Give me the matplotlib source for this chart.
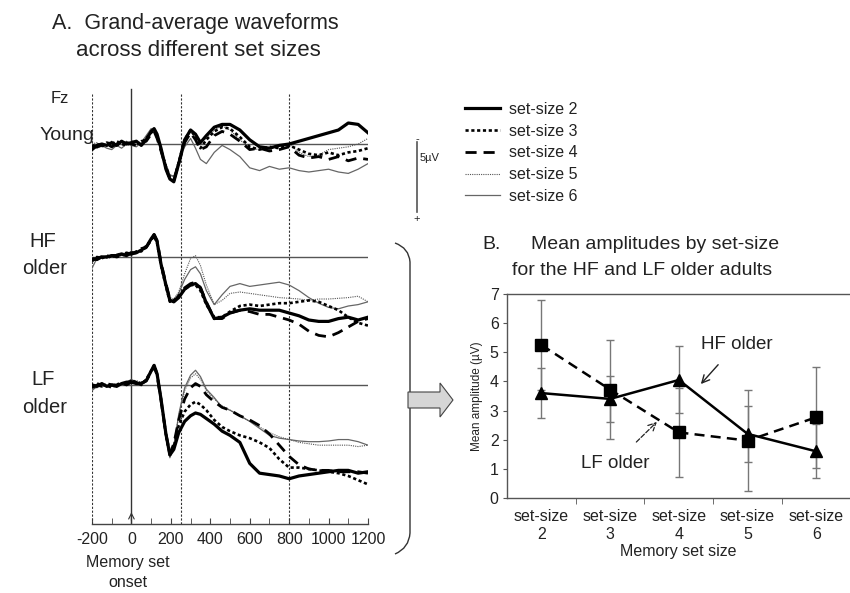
import numpy as np
import matplotlib
matplotlib.use('Agg')
import matplotlib.pyplot as plt
from matplotlib.path import Path
from matplotlib.patches import PathPatch, Polygon

plt.rcParams['font.family'] = ['Liberation Sans', 'DejaVu Sans']
plt.rcParams['axes.unicode_minus'] = False

''' Panel A: grand-average waveforms at Fz (uV, positive plotted down) '''
t_ms = [-200, -175, -150, -125, -100, -75, -50, -25, 0, 25, 50, 75, 100, 115, 130, 150,
        175, 195, 215, 240, 270, 300, 325, 350, 380, 420, 460, 500, 550, 600, 650, 700,
        750, 800, 850, 900, 950, 1000, 1050, 1100, 1150, 1200]

young_2 = [0.4, 0.1, 0.0, 0.1, -0.1, 0.1, -0.2, 0.0, -0.1, -0.2, 0.1, -0.3, -0.9, -1.1, -0.7, 0.3,
           1.8, 2.5, 2.7, 1.4, -0.3, -1.0, -0.7, -0.1, -0.6, -1.2, -1.4, -1.4, -1.0, -0.3, 0.2, 0.3,
           0.1, 0.0, -0.2, -0.4, -0.6, -0.8, -1.0, -1.5, -1.4, -0.8]
young_3 = [0.2, 0.0, 0.2, -0.1, 0.0, -0.2, 0.0, 0.1, -0.2, 0.0, -0.1, -0.4, -0.8, -1.0, -0.5, 0.4,
           1.6, 2.4, 2.6, 1.3, -0.3, -1.0, -0.5, 0.3, -0.3, -0.9, -1.2, -1.1, -0.5, 0.2, 0.4, 0.2,
           0.3, 0.1, 0.4, 0.7, 0.8, 0.6, 0.8, 0.6, 0.5, 0.3]
young_4 = [0.1, 0.2, 0.1, 0.0, 0.2, 0.0, 0.1, -0.1, 0.0, 0.1, -0.2, -0.2, -0.7, -0.9, -0.4, 0.5,
           1.7, 2.5, 2.6, 1.4, -0.1, -0.8, -0.3, 0.4, 0.2, -0.6, -0.9, -0.7, -0.2, 0.4, 0.3, 0.5,
           0.4, 0.2, 0.8, 1.0, 0.9, 1.1, 0.9, 1.2, 1.0, 1.1]
young_5 = [0.0, -0.1, 0.2, 0.0, -0.2, 0.1, 0.0, -0.2, 0.1, -0.1, 0.0, -0.5, -1.0, -1.1, -0.6, 0.3,
           1.4, 2.2, 2.4, 1.2, -0.2, -1.0, -0.7, -0.2, -0.4, -1.0, -1.3, -1.0, -0.3, 0.3, 0.4, 0.3,
           0.1, 0.0, 0.6, 0.9, 0.8, 0.4, 0.3, 0.2, 0.0, -0.4]
young_6 = [0.2, 0.3, 0.1, 0.3, 0.4, 0.1, 0.3, 0.0, 0.1, 0.2, -0.1, -0.6, -1.1, -0.9, -0.4, 0.4,
           1.5, 2.2, 2.3, 1.2, 0.2, -0.4, 0.3, 1.1, 1.4, 0.6, 0.1, 0.4, 0.9, 1.7, 1.9, 1.6,
           1.8, 1.7, 1.9, 2.0, 1.9, 1.8, 2.0, 2.1, 1.8, 1.4]

hf_2 = [0.2, 0.1, 0.0, 0.0, -0.1, -0.1, -0.2, -0.1, -0.3, -0.3, -0.5, -0.7, -1.3, -1.6, -1.1, 0.5,
        2.0, 3.1, 3.2, 2.9, 2.3, 2.0, 1.9, 2.2, 3.3, 4.4, 4.3, 4.0, 3.8, 3.7, 3.8, 3.8,
        3.8, 4.0, 4.2, 4.5, 4.6, 4.6, 4.4, 4.3, 4.5, 4.3]
hf_3 = [0.3, 0.0, 0.1, -0.1, 0.0, -0.2, -0.1, -0.2, -0.2, -0.4, -0.4, -0.8, -1.2, -1.5, -1.0, 0.6,
        2.1, 3.2, 3.1, 2.8, 2.3, 2.0, 2.0, 2.4, 3.4, 4.3, 4.3, 3.9, 3.5, 3.4, 3.5, 3.4,
        3.3, 3.3, 3.2, 3.1, 3.2, 3.5, 3.8, 4.3, 4.7, 4.9]
hf_4 = [0.1, 0.2, 0.0, 0.1, -0.1, 0.0, -0.1, -0.3, -0.2, -0.3, -0.6, -0.7, -1.2, -1.6, -1.2, 0.4,
        1.9, 3.0, 3.2, 2.8, 2.2, 1.9, 1.8, 2.2, 3.2, 4.4, 4.4, 4.0, 3.8, 3.9, 4.1, 4.1,
        4.3, 4.5, 4.8, 5.3, 5.6, 5.7, 5.4, 5.0, 4.6, 4.4]
hf_5 = [0.4, 0.0, -0.1, 0.1, -0.1, -0.2, -0.2, -0.3, -0.3, -0.4, -0.5, -0.8, -1.3, -1.6, -1.1, 0.4,
        1.8, 2.9, 3.0, 2.5, 1.2, 0.1, -0.1, 0.6, 2.0, 3.4, 3.1, 2.6, 2.5, 2.6, 2.7, 2.8,
        2.9, 2.95, 3.0, 3.1, 3.0, 3.0, 2.95, 2.9, 2.8, 3.2]
hf_6 = [0.8, 0.1, 0.0, -0.1, 0.0, -0.2, -0.3, -0.2, -0.4, -0.3, -0.5, -0.6, -1.2, -1.5, -1.0, 0.5,
        1.9, 3.0, 3.1, 2.6, 1.6, 0.9, 0.7, 1.2, 2.4, 3.4, 2.7, 2.1, 1.9, 2.1, 2.0, 1.9,
        1.8, 2.0, 2.4, 2.9, 3.3, 3.6, 3.7, 3.5, 3.4, 3.2]

lf_2 = [0.0, 0.1, -0.1, 0.1, 0.0, 0.1, -0.1, -0.2, -0.2, -0.1, -0.1, -0.3, -1.0, -1.4, -0.8, 1.0,
        3.5, 5.0, 4.6, 3.4, 2.6, 2.2, 2.0, 2.1, 2.4, 2.8, 3.3, 3.6, 4.1, 5.6, 6.3, 6.4,
        6.5, 6.7, 6.5, 6.4, 6.3, 6.2, 6.1, 6.1, 6.3, 6.2]
lf_3 = [0.1, -0.1, 0.0, 0.0, 0.2, -0.1, 0.0, -0.1, -0.3, -0.2, 0.0, -0.4, -1.0, -1.4, -0.8, 1.0,
        3.6, 5.0, 4.4, 2.9, 1.9, 1.4, 1.2, 1.4, 1.8, 2.5, 3.0, 3.3, 3.6, 3.8, 4.1, 4.5,
        5.3, 5.9, 5.9, 6.0, 6.1, 6.2, 6.3, 6.5, 6.8, 7.1]
lf_4 = [0.2, 0.0, 0.1, -0.1, 0.0, 0.0, -0.2, 0.0, -0.2, -0.3, -0.1, -0.3, -0.9, -1.3, -0.7, 1.1,
        3.5, 4.9, 4.2, 2.5, 1.0, 0.2, -0.1, 0.1, 0.7, 1.2, 1.6, 1.8, 2.2, 2.5, 2.9, 3.5,
        4.3, 5.1, 5.7, 6.0, 6.1, 6.1, 6.2, 6.2, 6.2, 6.3]
lf_5 = [0.3, 0.2, 0.0, 0.1, -0.1, 0.1, -0.1, -0.1, -0.3, -0.3, -0.2, -0.4, -1.1, -1.4, -0.9, 0.9,
        3.4, 5.1, 4.3, 2.2, 0.4, -0.5, -0.8, -0.4, 0.4, 1.0, 1.5, 1.8, 2.2, 2.6, 3.0, 3.4,
        3.7, 3.9, 4.1, 4.2, 4.3, 4.3, 4.3, 4.3, 4.4, 4.3]
lf_6 = [0.4, 0.1, 0.1, 0.0, 0.1, 0.0, 0.0, -0.2, -0.4, -0.2, -0.2, -0.3, -1.0, -1.3, -0.8, 0.8,
        3.3, 5.2, 4.4, 2.1, 0.2, -0.7, -1.05, -0.6, 0.3, 0.9, 1.6, 1.8, 2.2, 2.6, 3.1, 3.6,
        3.8, 3.9, 4.0, 4.05, 4.05, 4.0, 3.9, 3.9, 4.05, 4.3]

set_labels = ['set-size 2', 'set-size 3', 'set-size 4', 'set-size 5', 'set-size 6']
groups = ['Young', 'HF older', 'LF older']
group_offset = [0.0, 8.07, 17.21]   # uV spacing between the stacked traces
waves = [[young_2, young_3, young_4, young_5, young_6],
         [hf_2, hf_3, hf_4, hf_5, hf_6],
         [lf_2, lf_3, lf_4, lf_5, lf_6]]

''' Panel B: mean amplitudes '''
set_sizes = [2, 3, 4, 5, 6]
hf_mean = [3.6, 3.4, 4.05, 2.2, 1.6]
hf_err = [0.85, 0.8, 1.15, 0.95, 0.93]
lf_mean = [5.25, 3.72, 2.25, 1.97, 2.77]
lf_err = [1.55, 1.7, 1.52, 1.72, 1.73]

# line styles for set-size 2..6
styles = [dict(color='black', lw=2.3, ls='-'),
          dict(color='black', lw=1.9, ls=(0, (1.2, 1.0))),
          dict(color='black', lw=2.0, ls=(0, (4, 2.5))),
          dict(color='#555555', lw=0.8, ls=(0, (1, 1))),
          dict(color='#666666', lw=0.9, ls='-')]

W, H = 850, 593
fig = plt.figure(figsize=(W / 100, H / 100), dpi=100)


def box(x0, y0, x1, y1):
    # pixel box (top-left origin) -> figure fraction rect
    return [x0 / W, 1 - y1 / H, (x1 - x0) / W, (y1 - y0) / H]


ink = '#222222'

''' Panel A '''
ax = fig.add_axes(box(92, 88, 368, 524))
ax.set_xlim(-200, 1200)
ax.set_ylim(27.14, -4.0)
for spine in ['left', 'top', 'right']:
    ax.spines[spine].set_visible(False)
ax.spines['bottom'].set_color('#444444')
ax.spines['bottom'].set_linewidth(1.0)
ax.set_yticks([])
ax.set_xticks(np.arange(-200, 1201, 200))
ax.set_xticks(np.arange(-200, 1201, 100), minor=True)
ax.tick_params(axis='x', which='both', direction='in', length=4, color='#444444',
               labelsize=11.5, labelcolor=ink, pad=6)

for xv in [-200, 250, 800]:
    ax.plot([xv, xv], [-3.6, 27.14], color='#333333', lw=0.8, ls=(0, (2, 1.5)))
ax.plot([0, 0], [-3.9, 27.14], color='#333333', lw=1.0)
ax.annotate('', xy=(0, 26.1), xytext=(0, 27.1),
            arrowprops=dict(arrowstyle='->', color='#333333', lw=0.8))
ax.hlines(group_offset, -200, 1200, color='#555555', lw=1.0)

handles = []
for g, off in enumerate(group_offset):
    for k in range(5):
        ln, = ax.plot(t_ms, np.array(waves[g][k]) + off, zorder=3 + (4 - k) * 0.1, **styles[k])
        if g == 0:
            handles.append(ln)

fig.text(52 / W, 1 - 29 / H, 'A.  Grand-average waveforms', fontsize=15.5, color=ink)
fig.text(76 / W, 1 - 56 / H, 'across different set sizes', fontsize=16, color=ink)
fig.text(51 / W, 1 - 103 / H, 'Fz', fontsize=12, color=ink)
fig.text(40 / W, 1 - 140 / H, 'Young', fontsize=14, color=ink)
fig.text(43 / W, 1 - 247 / H, 'HF', fontsize=14.5, color=ink, ha='center')
fig.text(45 / W, 1 - 274 / H, 'older', fontsize=14.5, color=ink, ha='center')
fig.text(43 / W, 1 - 385 / H, 'LF', fontsize=14.5, color=ink, ha='center')
fig.text(45 / W, 1 - 413 / H, 'older', fontsize=14.5, color=ink, ha='center')
fig.text(128 / W, 1 - 567 / H, 'Memory set', fontsize=11.5, color=ink, ha='center')
fig.text(128 / W, 1 - 587 / H, 'onset', fontsize=11.5, color=ink, ha='center')

fig.legend(handles, set_labels, loc='upper left', bbox_to_anchor=(465 / W, 1 - 102 / H),
           frameon=False, fontsize=11.5, handlelength=2.2, handletextpad=0.55,
           labelspacing=0.42, borderpad=0, borderaxespad=0, labelcolor=ink)

''' overlay for scale bar, bracket and block arrow (pixel coordinates) '''
ov = fig.add_axes([0, 0, 1, 1], zorder=-1)
ov.set_xlim(0, W)
ov.set_ylim(H, 0)
ov.axis('off')
ov.plot([417, 417], [142, 212], color='#555555', lw=1.2)
ov.text(417, 139, '-', fontsize=8, ha='center', va='center', color=ink)
ov.text(420, 158, '5µV', fontsize=8, ha='left', va='center', color=ink)
ov.text(417, 219, '+', fontsize=8, ha='center', va='center', color=ink)

bracket = Path([(395, 243), (409, 248), (410, 262), (410, 533), (409, 548), (395, 554)],
               [Path.MOVETO, Path.CURVE3, Path.CURVE3, Path.LINETO, Path.CURVE3, Path.CURVE3])
ov.add_patch(PathPatch(bracket, fill=False, edgecolor='#333333', lw=1.0))
ov.add_patch(Polygon([(408, 392), (440, 392), (440, 383), (453, 400), (440, 417),
                      (440, 408), (408, 408)], closed=True, facecolor='#d6d6d6',
                     edgecolor='#444444', lw=0.8))

''' Panel B '''
bx = fig.add_axes(box(507, 294, 850, 498))
bx.set_xlim(0.5, 5.49)
bx.set_ylim(0, 7)
bx.spines['right'].set_visible(False)
for spine in ['left', 'bottom', 'top']:
    bx.spines[spine].set_color('#555555')
    bx.spines[spine].set_linewidth(1.0)
xpos = np.arange(1, len(set_sizes) + 1)
bx.errorbar(xpos, lf_mean, yerr=lf_err, fmt='none', ecolor='#777777', elinewidth=1.0,
            capsize=3, capthick=1.0, zorder=2)
bx.errorbar(xpos, hf_mean, yerr=hf_err, fmt='none', ecolor='#777777', elinewidth=1.0,
            capsize=3, capthick=1.0, zorder=2)
bx.plot(xpos, hf_mean, color='black', lw=1.8, marker='^', ms=8, zorder=4)
bx.plot(xpos, lf_mean, color='black', lw=1.8, ls=(0, (4, 2.5)), marker='s', ms=8, zorder=3)

bx.set_xticks(xpos)
bx.set_xticklabels(['set-size\n%d' % s for s in set_sizes], fontsize=11.5, color=ink,
                   linespacing=1.2)
bx.set_xticks(xpos[:-1] + 0.5, minor=True)
bx.tick_params(axis='x', which='major', length=0, pad=8)
bx.tick_params(axis='x', which='minor', length=4, direction='out', color='#555555')
bx.set_yticks(range(0, 8))
bx.tick_params(axis='y', length=3, direction='out', color='#555555', labelsize=11.5,
               labelcolor=ink, pad=3)
bx.set_xlabel('Memory set size', fontsize=11.5, color=ink, labelpad=2)
bx.set_ylabel('Mean amplitude (µV)', fontsize=8.5, color=ink, labelpad=5)

bx.annotate('HF older', xy=(3.32, 3.91), xytext=(3.84, 5.28), fontsize=13.5, color=ink,
            ha='center', va='center',
            arrowprops=dict(arrowstyle='->', color='#222222', lw=1.0, shrinkA=9, shrinkB=0))
bx.annotate('LF older', xy=(2.68, 2.61), xytext=(2.07, 1.2), fontsize=13.5, color=ink,
            ha='center', va='center',
            arrowprops=dict(arrowstyle='->', color='#222222', lw=0.9, ls='--',
                            shrinkA=10, shrinkB=0))

fig.text(482 / W, 1 - 249 / H, 'B.', fontsize=14, color=ink)
fig.text(531 / W, 1 - 249 / H, 'Mean amplitudes by set-size', fontsize=14, color=ink)
fig.text(512 / W, 1 - 275 / H, 'for the HF and LF older adults', fontsize=14, color=ink)

fig.savefig('out.png', dpi=100)
